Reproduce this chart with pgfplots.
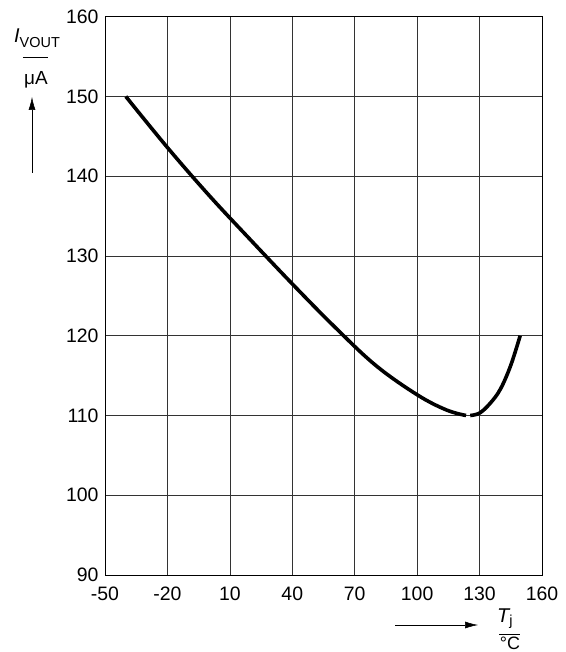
\documentclass[border=0pt]{standalone}
\usepackage{pgfplots}
\pgfplotsset{compat=1.18}
\usetikzlibrary{arrows.meta}
\usepackage{fontspec}
\setmainfont{Liberation Sans}
\begin{document}
\begin{tikzpicture}
\path[use as bounding box] (-105bp,-77bp) rectangle (461bp,575bp);
\begin{axis}[
  scale only axis,
  width=437bp, height=558.3bp,
  xmin=-50, xmax=160, ymin=90, ymax=160,
  xtick={-50,-20,...,160}, ytick={90,100,...,160},
  grid=major,
  major grid style={black!80, line width=0.6bp},
  tick style={draw=none},
  axis line style={line width=0.8bp},
  ticklabel style={font=\fontsize{19.5}{22}\selectfont},
  /pgf/number format/assume math mode=true,
  xticklabel style={yshift=-8bp},
  yticklabel style={xshift=-3bp},
  clip=false,
]
\addplot[black, line width=3.6bp, smooth, tension=0.6] coordinates {
  (-40,150) (-20,143.6) (0,137.6) (20,132) (40,126.5) (60,121.2)
  (80,116.3) (100,112.6) (114,110.7) (123.5,110)
};
\addplot[black, line width=3.6bp, smooth, tension=0.6] coordinates {
  (125.5,110) (130,110.3) (135,111.5) (140,113.3) (145,116.3) (149.5,120)
};
\end{axis}
% y label
\node[anchor=base west, inner sep=0pt] at (-91bp,532bp)
  {{\fontsize{20}{22}\selectfont\itshape I}\raisebox{-5bp}{\fontsize{14.5}{16}\selectfont VOUT}};
\draw[line width=0.6bp] (-82bp,518bp) -- (-57bp,518bp);
\node[inner sep=0pt] at (-69bp,495bp) {\fontsize{19}{21}\selectfont μA};
\draw[line width=0.6bp, -{Latex[length=13bp,width=7bp]}] (-73bp,402bp) -- (-73bp,478bp);
% x label
\draw[line width=0.6bp, -{Latex[length=13bp,width=7bp]}] (290bp,-50bp) -- (373bp,-50bp);
\node[anchor=base west, inner sep=0pt] at (392bp,-47bp)
  {{\fontsize{20}{22}\selectfont\itshape T}\raisebox{-3bp}{\fontsize{14.5}{16}\selectfont j}};
\draw[line width=0.6bp] (394bp,-59bp) -- (415bp,-59bp);
\node[anchor=base, inner sep=0pt] at (405bp,-74bp) {\fontsize{18}{20}\selectfont °C};
\end{tikzpicture}
\end{document}
